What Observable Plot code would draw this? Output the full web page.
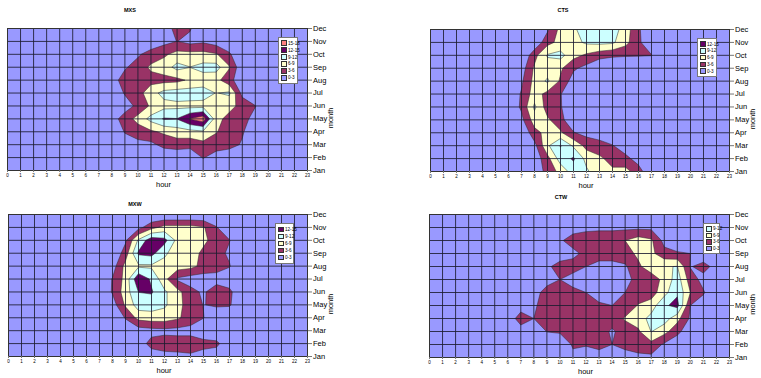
<!DOCTYPE html>
<html><head><meta charset="utf-8">
<script src="https://cdn.jsdelivr.net/npm/d3@7"></script>
<script src="https://cdn.jsdelivr.net/npm/@observablehq/plot@0.6"></script>
<style>
body{margin:0;background:#fff;font-family:"Liberation Sans",Arial,sans-serif;}
#root{position:relative;width:761px;height:378px;overflow:hidden;background:#fff;}
.panel{position:absolute;}
.title{position:absolute;font-weight:bold;font-size:5.5px;color:#000;transform:translate(-50%,-50%);white-space:nowrap;}
.legend{position:absolute;background:#fff;border:0.8px solid #777;box-sizing:border-box;display:flex;flex-direction:column;justify-content:space-evenly;padding:1px 1px 1px 2px;}
.legend .row{display:flex;align-items:center;font-size:4.6px;line-height:5px;color:#000;white-space:nowrap;}
.legend .sw{width:3.5px;height:3.5px;border:0.6px solid #333;margin-right:1.5px;flex:none;}
</style></head><body><div id="root"></div><script>
const hours = [0,1,2,3,4,5,6,7,8,9,10,11,12,13,14,15,16,17,18,19,20,21,22,23];
const monthIdx = [0,1,2,3,4,5,6,7,8,9,10,11];
const monthNames = ["Jan","Feb","Mar","Apr","May","Jun","Jul","Aug","Sep","Oct","Nov","Dec"];
const levels = [3,6,9,12,15];
const bandLabels = ["0-3","3-6","6-9","9-12","12-15","15-18"];
const bandColors = ["#9999FF","#993366","#FFFFCC","#CCFFFF","#660066","#FF8080"];

// rows: Jan..Dec, columns: hour 0..23
const mxs = [
[0,0,0,0,0,0,0,0,0,0,0,0,0,0,0,0,0,0,0,0,0,0,0,0],
[0,0,0,0,0,0,0,0,0,0,0,0,0.3,0.5,0.7,3.2,1.5,1,0,0,0,0,0,0],
[0,0,0,0,0,0,0,0,0,1.5,2,2.2,4,4.5,4,5,4.5,4,2.7,0.5,0,0,0,0],
[0,0,0,0,0,0,0,0,0.5,3.2,4.5,5.5,6.5,7.5,8,8.5,6.2,4.5,3.3,1,0,0,0,0],
[0,0,0,0,0,0,0,0,1.5,4.5,7,10,12.3,12.1,15.2,17,7,5,4,2,0,0,0,0],
[0,0,0,0,0,0,0,0,0.5,1.5,3.8,6.5,8,8.2,8,8,8,7,5,3.1,0.3,0,0,0],
[0,0,0,0,0,0,0,0,0.5,3.3,4.8,7.8,10,10.5,10.5,10.3,8.9,9.5,2,0,0,0,0,0],
[0,0,0,0,0,0,0,0,1.5,4.5,5,5,5,5.2,6.5,7.5,7,4,1,0,0,0,0,0],
[0,0,0,0,0,0,0,0,0,2.6,4.5,6.5,7.5,10,9.05,10,10.2,6.3,0.5,0,0,0,0,0],
[0,0,0,0,0,0,0,0,0,0,2.5,4.5,5.5,7,7,7,6.3,3.5,0,0,0,0,0,0],
[0,0,0,0,0,0,0,0,0,0,0,0.5,2,3.05,2,2.5,1.5,0.5,0,0,0,0,0,0],
[0,0,0,0,0,0,0,0,0,0,0,0,0,5,3.3,0,0,0,0,0,0,0,0,0]
];
const cts = [
[0,0,0,0,0,0,0,0,1,4,7,10.5,9.5,7,6.5,7,4.5,0,0,0,0,0,0,0],
[0,0,0,0,0,0,0,0,1,5,10.5,12.4,8,6.5,5,4,1.5,0,0,0,0,0,0,0],
[0,0,0,0,0,0,0,0,2,8.5,12.2,8.5,5,4.5,3.2,1,0,0,0,0,0,0,0,0],
[0,0,0,0,0,0,0,0,5,7,6.5,3.2,2,1,0,0,0,0,0,0,0,0,0,0],
[0,0,0,0,0,0,0,2.2,7.5,6.5,4,0.5,0,0,0,0,0,0,0,0,0,0,0,0],
[0,0,0,0,0,0,0.5,3.5,9.6,4.5,3.3,0,0,0,0,0,0,0,0,0,0,0,0,0],
[0,0,0,0,0,0,0.5,3.3,7.5,5,3.2,0,0,0,0,0,0,0,0,0,0,0,0,0],
[0,0,0,0,0,0,0,2.5,7,9.5,5.5,1.5,0,0,0,0,0,0,0,0,0,0,0,0],
[0,0,0,0,0,0,0,1.5,6.5,7.5,6.5,3.5,2,0,0,0,0,0,0,0,0,0,0,0],
[0,0,0,0,0,0,0,0,5,9.3,10,7,5.5,4.2,3.5,3.3,3.2,3.1,0,0,0,0,0,0],
[0,0,0,0,0,0,0,0,0.5,5,7,8,9.5,9.8,9.5,7,3.5,1,0,0,0,0,0,0],
[0,0,0,0,0,0,0,0,0,2.5,7,8.5,10.5,10.5,10.5,7.5,3.5,0,0,0,0,0,0,0]
];
const mxw = [
[0,0,0,0,0,0,0,0,0,0,0,1.5,2,2.2,2.5,1.5,1,0,0,0,0,0,0,0],
[0,0,0,0,0,0,0,0,0,0,1.5,4,4.5,4.5,4.5,4.2,3.8,0.5,0,0,0,0,0,0],
[0,0,0,0,0,0,0,0,0,1,1.5,2,2.2,2,2,0.5,0,0,0,0,0,0,0,0],
[0,0,0,0,0,0,0,0,0.5,3.2,7,7.5,7.5,6.5,4.5,3.1,0.5,0,0,0,0,0,0,0],
[0,0,0,0,0,0,0,0,1.5,6.5,10.5,10.5,9.5,7,4.5,2.9,3.5,3.4,0,0,0,0,0,0],
[0,0,0,0,0,0,0,0,3.3,7.5,12.05,12.3,9.5,7,4,2.5,5,3.8,0,0,0,0,0,0],
[0,0,0,0,0,0,0,0,3.2,7,14.5,11.5,7,2.5,1.5,1.5,1.5,1,0,0,0,0,0,0],
[0,0,0,0,0,0,0,0,1.5,7,8.5,8.5,8,7.5,7,5,4.5,3.2,0,0,0,0,0,0],
[0,0,0,0,0,0,0,0,0,4.5,12.5,13,9.5,7.5,7,5.5,4,2.5,0,0,0,0,0,0],
[0,0,0,0,0,0,0,0,0,2.5,9.5,14,13,8,7.5,6.5,5,3.1,0,0,0,0,0,0],
[0,0,0,0,0,0,0,0,0,0,2,5,7,7,7,6.3,3.2,0.5,0,0,0,0,0,0],
[0,0,0,0,0,0,0,0,0,0,0,0,0,0,0,0,0,0,0,0,0,0,0,0]
];
const ctw = [
[0,0,0,0,0,0,0,0,0,0,0,2,1,1.5,0.5,1.5,2.2,2.3,0,0,0,0,0,0],
[0,0,0,0,0,0,0,0,0,0,0,3.5,3.3,4,3,4,4.5,5,2.5,0.5,0,0,0,0],
[0,0,0,0,0,0,0,1.5,0.5,3.1,3.5,4.5,4,4.5,2.5,4.5,5.5,9.1,7,4,0.5,0,0,0],
[0,0,0,0,0,0,1,4.5,3,4.5,5,4.5,4.5,4.5,4.5,6.3,7.5,10,10.5,7,2.5,0.5,0,0],
[0,0,0,0,0,0,0,1.5,2.5,4.5,5,4.5,4,3.5,3,4,6.2,7.5,11.5,13,3,1.5,0,0],
[0,0,0,0,0,0,0,0.5,1.5,4.5,4.5,4,3,1.5,1.5,3,4.5,4.5,8,11.5,6,3.3,0.5,0],
[0,0,0,0,0,0,0,0,0.5,1.5,3,1.5,1,0.5,1,2,4,4.5,6.8,10.5,4.5,2,0.5,0],
[0,0,0,0,0,0,0,0,0,2.5,4,4.5,3,1.5,1.5,2.5,5.5,7.5,8.8,9.1,2.8,4,2,0],
[0,0,0,0,0,0,0,0,0,0,1.5,2,4,5,5,5,6.5,6.8,4,3.5,3,1,0,0],
[0,0,0,0,0,0,0,0,0,1,2.5,4.5,4.5,5,5,6,7.5,6.5,2,0,0,0,0,0],
[0,0,0,0,0,0,0,0,0,0,3.05,1.5,2.3,2.3,2.3,2.3,2.3,2.3,0,0,0,0,0,0],
[0,0,0,0,0,0,0,0,0,0,0,0,0,0,0,0,0,0,0,0,0,0,0,0]
];

const FONT = "'Liberation Sans', Arial, sans-serif";
const root = document.getElementById("root");

function addPanel(cfg) {
  const chart = Plot.plot({
    width: cfg.w, height: cfg.h,
    marginLeft: cfg.m[0], marginRight: cfg.m[1], marginTop: cfg.m[2], marginBottom: cfg.m[3],
    style: {fontFamily: FONT, background: "transparent", overflow: "visible", color: "#000"},
    x: {domain: [0, 23]},
    y: {domain: [0, 11]},
    color: {type: "ordinal", domain: levels, range: bandColors.slice(1)},
    marks: [
      Plot.frame({fill: bandColors[0], stroke: null}),
      Plot.contour(cfg.values.flat(), {
        width: 24, height: 12, x1: -0.5, x2: 23.5, y1: -0.5, y2: 11.5,
        fill: Plot.identity, thresholds: levels,
        stroke: "#2a2a2a", strokeWidth: 0.5, clip: true
      }),
      Plot.gridX(hours, {stroke: "#1c1c30", strokeOpacity: 0.85, strokeWidth: 1}),
      Plot.gridY(monthIdx, {stroke: "#1c1c30", strokeOpacity: 0.85, strokeWidth: 1}),
      Plot.frame({stroke: "#333"}),
      Plot.axisX(hours, {tickSize: 2, tickPadding: 1.5, fontSize: 4.5, label: null, tickFormat: d => String(d), stroke: "#777"}),
      Plot.axisY(monthIdx, {anchor: "right", tickSize: 4, tickPadding: 1.5, fontSize: 7.5, label: null, tickFormat: i => monthNames[i], stroke: "#777"}),
      Plot.text(["hour"], {text: d => d, frameAnchor: "bottom", dx: 6, dy: 16, fontSize: 7.5}),
      Plot.text(["month"], {text: d => d, frameAnchor: "right", dx: 23, dy: 8, rotate: -90, fontSize: 7.5})
    ]
  });
  const wrap = document.createElement("div");
  wrap.className = "panel";
  wrap.style.left = cfg.x + "px";
  wrap.style.top = cfg.y + "px";
  wrap.appendChild(chart);
  root.appendChild(wrap);

  const t = document.createElement("div");
  t.className = "title";
  t.textContent = cfg.title;
  t.style.left = cfg.tx + "px";
  t.style.top = cfg.ty + "px";
  root.appendChild(t);

  const lg = document.createElement("div");
  lg.className = "legend";
  Object.assign(lg.style, {left: cfg.lg[0] + "px", top: cfg.lg[1] + "px", width: cfg.lg[2] + "px", height: cfg.lg[3] + "px"});
  for (let i = cfg.bands - 1; i >= 0; i--) {
    const row = document.createElement("div");
    row.className = "row";
    const sw = document.createElement("span");
    sw.className = "sw";
    sw.style.background = bandColors[i];
    row.appendChild(sw);
    row.appendChild(document.createTextNode(bandLabels[i]));
    lg.appendChild(row);
  }
  root.appendChild(lg);
}

addPanel({title: "MXS", values: mxs, x: 0, y: 0, w: 380, h: 190, m: [7, 73, 28, 20], tx: 130, ty: 10, lg: [278, 37, 20, 47], bands: 6});
addPanel({title: "CTS", values: cts, x: 380, y: 0, w: 381, h: 190, m: [50, 32, 29, 19], tx: 563, ty: 10, lg: [697, 38, 20, 39], bands: 5});
addPanel({title: "MXW", values: mxw, x: 0, y: 190, w: 380, h: 188, m: [8, 73, 24, 22], tx: 135, ty: 204, lg: [275, 223, 19, 41], bands: 5});
addPanel({title: "CTW", values: ctw, x: 380, y: 190, w: 381, h: 188, m: [49, 32, 24, 21], tx: 561, ty: 197, lg: [703, 223, 17, 31], bands: 4});
</script></body></html>
